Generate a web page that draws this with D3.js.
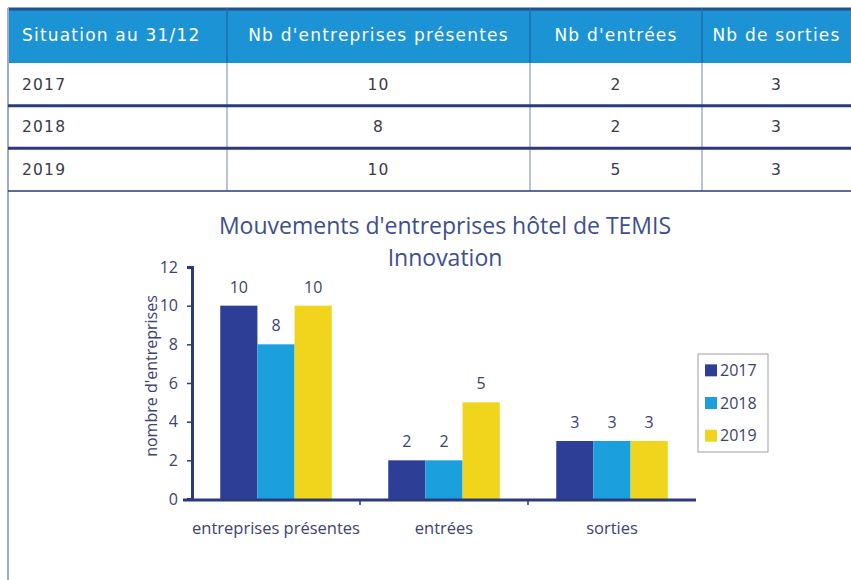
<!DOCTYPE html>
<html>
<head>
<meta charset="utf-8">
<script src="https://cdn.jsdelivr.net/npm/d3@7"></script>
<style>
  body { margin: 0; background: #fff; }
  svg { display: block; }
</style>
</head>
<body>
<div id="chart"></div>
<script>
// table + chart data
let years = ["2017", "2018", "2019"],
  presentes = [10, 8, 10],
  entrees = [2, 2, 5],
  sorties = [3, 3, 3],
  headers = ["Situation au 31/12", "Nb d'entreprises présentes", "Nb d'entrées", "Nb de sorties"],
  categories = ["entreprises présentes", "entrées", "sorties"],
  yTicks = [0, 2, 4, 6, 8, 10, 12],
  colors = ["#2d3e97", "#1ba0dd", "#f1d51c"];

let W = 851,
  H = 580,
  navy = "#2b3a7c",
  textCol = "#3c4272";

let svg = d3
  .select("#chart")
  .append("svg")
  .attr("width", W)
  .attr("height", H);

// ---- table ----
var colEdges = [8, 227, 530, 702, 851],
  tableTop = 8,
  headerH = 55,
  rowY = d3.scaleBand().domain(years).range([tableTop + headerH, 191]),
  tFont = "'DejaVu Sans', sans-serif";

svg
  .append("rect")
  .attr("x", colEdges[0])
  .attr("y", tableTop)
  .attr("width", W - colEdges[0])
  .attr("height", headerH)
  .attr("fill", "#1b93d5");

svg
  .append("line")
  .attr("x1", colEdges[0])
  .attr("x2", W)
  .attr("y1", tableTop + 1)
  .attr("y2", tableTop + 1)
  .attr("stroke", "#24508f")
  .attr("stroke-width", 3);

// vertical dividers
colEdges.slice(1, 4).forEach((x) => {
  svg
    .append("line")
    .attr("x1", x)
    .attr("x2", x)
    .attr("y1", tableTop)
    .attr("y2", tableTop + headerH)
    .attr("stroke", "#1d6db0")
    .attr("stroke-width", 1.5);
  svg
    .append("line")
    .attr("x1", x)
    .attr("x2", x)
    .attr("y1", tableTop + headerH)
    .attr("y2", 191)
    .attr("stroke", "#a9acd0")
    .attr("stroke-width", 1.5);
});

// left outer border running down the page
svg
  .append("line")
  .attr("x1", colEdges[0])
  .attr("x2", colEdges[0])
  .attr("y1", tableTop)
  .attr("y2", H)
  .attr("stroke", "#a3a8cc")
  .attr("stroke-width", 2);

headers.forEach((h, i) => {
  var left = i === 0;
  svg
    .append("text")
    .attr("x", left ? colEdges[0] + 14 : (colEdges[i] + colEdges[i + 1]) / 2)
    .attr("y", tableTop + headerH / 2)
    .attr("dy", "0.35em")
    .attr("text-anchor", left ? "start" : "middle")
    .attr("fill", "#fff")
    .style("font-family", tFont)
    .style("font-size", "17px")
    .style("letter-spacing", "1.2px")
    .text(h);
});

years.forEach((y, r) => {
  var cells = [y, presentes[r], entrees[r], sorties[r]];
  var bottom = rowY(y) + rowY.bandwidth();
  svg
    .append("line")
    .attr("x1", colEdges[0])
    .attr("x2", W)
    .attr("y1", bottom)
    .attr("y2", bottom)
    .attr("stroke", navy)
    .attr("stroke-width", r === years.length - 1 ? 1.5 : 3);
  cells.forEach((c, i) => {
    var left = i === 0;
    svg
      .append("text")
      .attr("x", left ? colEdges[0] + 14 : (colEdges[i] + colEdges[i + 1]) / 2)
      .attr("y", rowY(y) + rowY.bandwidth() / 2)
      .attr("dy", "0.35em")
      .attr("text-anchor", left ? "start" : "middle")
      .attr("fill", "#3a3a48")
      .style("font-family", tFont)
      .style("font-size", "15.5px")
      .style("letter-spacing", "1.2px")
      .text(c);
  });
});

// ---- chart ----
var series = [presentes, entrees, sorties];
var chartData = [];
categories.forEach((c, ci) => {
  years.forEach((y, yi) => {
    chartData.push({ cat: c, year: y, val: series[ci][yi] });
  });
});

var x0 = d3.scaleBand().domain(categories).range([192, 696]),
  x1 = d3.scaleBand().domain(years).range([0, x0.bandwidth()]).paddingOuter(0.76),
  Y = d3.scaleLinear().domain([0, 12]).range([499, 267]),
  Color = d3.scaleOrdinal().domain(years).range(colors);

var font = "'Open Sans', 'Noto Sans', sans-serif";

// title
svg
  .append("text")
  .attr("x", 445)
  .attr("y", 234)
  .attr("text-anchor", "middle")
  .attr("fill", "#3d4f8e")
  .style("font-family", font)
  .style("font-size", "23px")
  .text("Mouvements d'entreprises hôtel de TEMIS");
svg
  .append("text")
  .attr("x", 445)
  .attr("y", 266)
  .attr("text-anchor", "middle")
  .attr("fill", "#3d4f8e")
  .style("font-family", font)
  .style("font-size", "23px")
  .text("Innovation");

// bars
svg
  .selectAll()
  .data(chartData)
  .enter()
  .append("rect")
  .attr("x", (d) => x0(d.cat) + x1(d.year))
  .attr("y", (d) => Y(d.val))
  .attr("width", x1.bandwidth())
  .attr("height", (d) => Y(0) - Y(d.val))
  .attr("fill", (d) => Color(d.year));

// value labels
svg
  .selectAll()
  .data(chartData)
  .enter()
  .append("text")
  .attr("x", (d) => x0(d.cat) + x1(d.year) + x1.bandwidth() / 2)
  .attr("y", (d) => Y(d.val) - 13)
  .attr("text-anchor", "middle")
  .attr("fill", textCol)
  .style("font-family", font)
  .style("font-size", "16px")
  .text((d) => d.val);

// y axis
var yAxis = svg
  .append("g")
  .attr("transform", "translate(192,0)")
  .call(d3.axisLeft(Y).tickValues(yTicks).tickSize(5).tickPadding(9));
yAxis.select(".domain").attr("stroke", navy).attr("stroke-width", 3);
yAxis.selectAll(".tick line").attr("stroke", navy).attr("stroke-width", 1.5);
yAxis
  .selectAll(".tick text")
  .attr("fill", textCol)
  .style("font-family", font)
  .style("font-size", "16px");

// x axis
svg
  .append("line")
  .attr("x1", 183)
  .attr("x2", x0.range()[1])
  .attr("y1", Y(0) + 1)
  .attr("y2", Y(0) + 1)
  .attr("stroke", navy)
  .attr("stroke-width", 3);
svg
  .selectAll()
  .data(categories.slice(1))
  .enter()
  .append("line")
  .attr("x1", (d) => x0(d))
  .attr("x2", (d) => x0(d))
  .attr("y1", Y(0))
  .attr("y2", Y(0) + 6)
  .attr("stroke", navy)
  .attr("stroke-width", 1.5);
svg
  .selectAll()
  .data(categories)
  .enter()
  .append("text")
  .attr("x", (d) => x0(d) + x0.bandwidth() / 2)
  .attr("y", 534)
  .attr("text-anchor", "middle")
  .attr("fill", textCol)
  .style("font-family", font)
  .style("font-size", "16.5px")
  .text((d) => d);

// y label
svg
  .append("text")
  .attr("transform", "translate(157,376) rotate(-90)")
  .attr("text-anchor", "middle")
  .attr("fill", textCol)
  .style("font-family", font)
  .style("font-size", "16px")
  .text("nombre d'entreprises");

// legend
var legend = svg.append("g").attr("transform", "translate(698,354)");
legend
  .append("rect")
  .attr("width", 70)
  .attr("height", 98)
  .attr("fill", "#fff")
  .attr("stroke", "#a0a0a0")
  .attr("stroke-width", 1);
var LY = d3.scaleBand().domain(years).range([0, 98]);
years.forEach((y) => {
  legend
    .append("rect")
    .attr("x", 7)
    .attr("y", LY(y) + LY.bandwidth() / 2 - 6)
    .attr("width", 12)
    .attr("height", 12)
    .attr("fill", Color(y));
  legend
    .append("text")
    .attr("x", 22)
    .attr("y", LY(y) + LY.bandwidth() / 2)
    .attr("dy", "0.35em")
    .attr("fill", textCol)
    .style("font-family", font)
    .style("font-size", "16px")
    .text(y);
});
</script>
</body>
</html>
